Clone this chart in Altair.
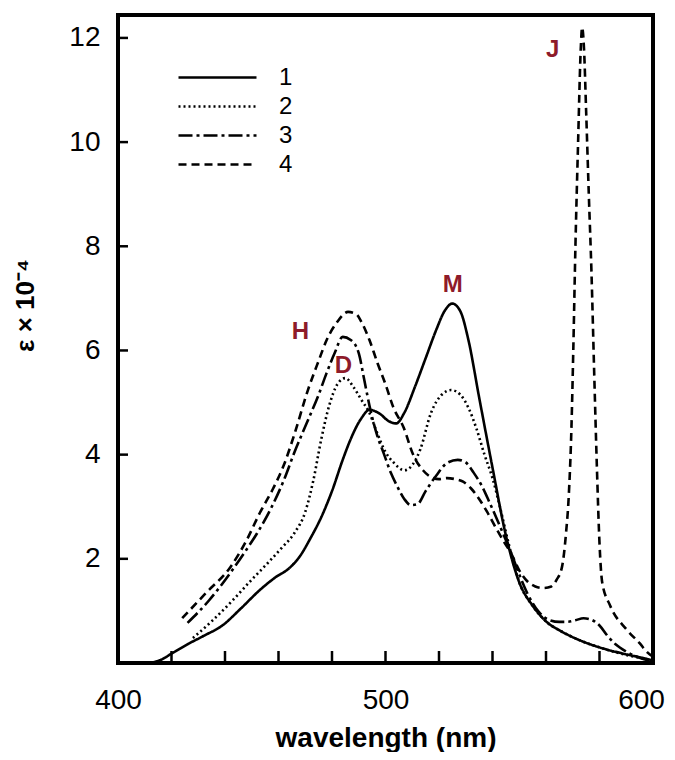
import altair as alt
import pandas as pd

# ---- data ----
series_names = ["1", "2", "3", "4"]

wl1 = [412, 416, 420, 426, 432, 439, 446, 453, 459, 464, 468, 472, 476, 480, 484, 487, 491, 494, 498, 501, 504,
       507, 511, 515, 519, 522, 525, 528, 531, 535, 540, 545, 550, 555, 560, 566, 572, 580, 588, 595, 600]
eps1 = [0.0, 0.06, 0.18, 0.36, 0.52, 0.72, 1.05, 1.40, 1.65, 1.82, 2.05, 2.4, 2.8, 3.3, 3.9, 4.3, 4.7, 4.86, 4.78, 4.65, 4.6,
        4.8, 5.3, 5.85, 6.4, 6.75, 6.9, 6.75, 6.2, 5.1, 3.75, 2.45, 1.55, 1.1, 0.8, 0.6, 0.45, 0.3, 0.19, 0.11, 0.05]

wl2 = [428, 435, 443, 450, 456, 461, 466, 470, 473, 476, 479, 482, 485, 488, 491, 494, 497, 500, 503, 507,
       510, 513, 517, 521, 524.5, 528, 531, 534, 537, 540, 543, 546, 550, 555, 560, 566, 572, 580, 588, 595, 600]
eps2 = [0.48, 0.8, 1.21, 1.6, 1.92, 2.2, 2.5, 2.9, 3.5, 4.3, 4.95, 5.35, 5.47, 5.3, 5.05, 4.8, 4.4, 4.05, 3.85, 3.7,
        3.8, 4.1, 4.8, 5.15, 5.24, 5.15, 4.9, 4.5, 4.0, 3.55, 2.95, 2.3, 1.55, 1.1, 0.8, 0.6, 0.45, 0.3, 0.18, 0.1, 0.05]

wl3 = [426, 434, 442, 447, 452, 457, 462, 466, 471, 475, 478, 481, 484, 487, 490, 492, 494.4, 497, 499.3, 502,
       504.5, 507, 509.5, 512, 515, 519, 523, 527, 530, 533, 536, 539, 543, 547, 550, 553, 557, 561, 565, 568,
       571, 574, 577, 580, 583, 586, 590, 595, 600]
eps3 = [0.77, 1.2, 1.73, 2.1, 2.49, 2.95, 3.51, 4.05, 4.66, 5.15, 5.57, 5.95, 6.26, 6.2, 5.95, 5.45, 4.85, 4.35, 4.03, 3.65,
        3.38, 3.15, 3.03, 3.05, 3.3, 3.6, 3.84, 3.9, 3.85, 3.65, 3.4, 3.07, 2.6, 2.11, 1.7, 1.34, 1.0, 0.83, 0.79, 0.79,
        0.82, 0.86, 0.83, 0.72, 0.52, 0.36, 0.22, 0.1, 0.03]

wl4 = [424, 433, 442, 448, 453, 458, 462, 466, 471, 475, 478, 482, 486, 489, 491, 494, 497, 500, 503, 506.7,
       510.5, 514, 517, 520, 523, 526, 529, 532, 535, 538, 541, 544, 547, 550, 553, 556, 559, 562, 564, 566,
       567.5, 568.5, 569.5, 570.2, 571, 572, 573, 573.5, 574.2, 575, 576, 577, 578, 579, 580, 581, 584, 590, 595, 598, 600]
eps4 = [0.86, 1.35, 1.84, 2.35, 2.88, 3.35, 3.8, 4.4, 5.24, 5.8, 6.2, 6.55, 6.74, 6.7, 6.55, 6.2, 5.76, 5.35, 4.9, 4.53,
        3.98, 3.7, 3.57, 3.53, 3.55, 3.53, 3.48, 3.35, 3.15, 2.9, 2.62, 2.35, 2.1, 1.78, 1.57, 1.47, 1.44, 1.47, 1.6, 1.85,
        2.5, 3.2, 4.5, 6.0, 8.0, 10.0, 11.8, 12.2, 11.8, 10.6, 9.0, 7.5, 5.6, 3.8, 2.3, 1.55, 1.1, 0.65, 0.38, 0.2, 0.12]

x_tick_values = [420, 440, 460, 480, 500, 520, 540, 560, 580]
x_label_values = [400, 500, 600]
y_tick_values = [2, 4, 6, 8, 10, 12]

band_letters = ["H", "D", "M", "J"]
band_wl = [468.2, 484.3, 525.1, 562.5]
band_eps = [6.35, 5.70, 7.26, 11.77]

# ---- build tables ----
rows = []
for name, wl, ev in zip(series_names, [wl1, wl2, wl3, wl4], [eps1, eps2, eps3, eps4]):
    for a, b in zip(wl, ev):
        rows.append({"series": name, "wl": a, "eps": b})
df = pd.DataFrame(rows)
df_xt = pd.DataFrame({"wl": x_tick_values})
df_yt = pd.DataFrame({"eps": y_tick_values})
df_lab = pd.DataFrame({"letter": band_letters, "wl": band_wl, "eps": band_eps})

W, H = 535, 648
FONT = "Liberation Sans"
xscale = alt.Scale(domain=[400, 600], nice=False, zero=False)
yscale = alt.Scale(domain=[0, 12.44], nice=False, zero=True)

x_axis = alt.Axis(values=x_label_values, ticks=False, domain=False, grid=False,
                  labelFontSize=28, labelPadding=23, labelFlush=False, labelColor="black",
                  labelOffset={"condition": {"test": "datum.value === 600", "value": -12}, "value": 0},
                  labelFont=FONT, title="wavelength (nm)", titleFontSize=28, titleFontWeight="bold",
                  titleFont=FONT, titleColor="black", titleX=W / 2, titleY=75,
                  titleBaseline="middle", titleAlign="center")
y_axis = alt.Axis(values=y_tick_values, ticks=False, domain=False, grid=False,
                  labelFontSize=28, labelPadding=18, labelColor="black", labelFont=FONT,
                  title="ε × 10⁻⁴", titleFontSize=26, titleFontWeight="bold", titleFont=FONT,
                  titleColor="black", titleAngle=270, titleX=-93, titleY=290,
                  titleBaseline="middle", titleAlign="center")

dash_range = [[1, 0], [2, 3], [14, 4, 3, 4], [8, 5]]

# custom legend glyph: a horizontal stroke three times wider than the symbol box
legend_glyph = "M-3,0H3"

lines = alt.Chart(df).mark_line(color="black", strokeWidth=2.6, interpolate="monotone", clip=True).encode(
    x=alt.X("wl:Q", scale=xscale, axis=x_axis),
    y=alt.Y("eps:Q", scale=yscale, axis=y_axis),
    strokeDash=alt.StrokeDash("series:N", scale=alt.Scale(domain=series_names, range=dash_range),
                              legend=alt.Legend(title=None, orient="none", legendX=85, legendY=48,
                                                symbolType=legend_glyph, symbolSize=676,
                                                symbolStrokeWidth=2.6, symbolStrokeColor="black",
                                                labelFontSize=24, labelFont=FONT, labelColor="black",
                                                labelOffset=47, rowPadding=2, padding=0)),
    order=alt.Order("wl:Q"),
)

xticks = alt.Chart(df_xt).mark_rule(color="black", strokeWidth=2.5).encode(
    x=alt.X("wl:Q", scale=xscale, axis=x_axis),
    y=alt.value(H), y2=alt.value(H - 12),
)
yticks = alt.Chart(df_yt).mark_rule(color="black", strokeWidth=2.5).encode(
    y=alt.Y("eps:Q", scale=yscale, axis=y_axis),
    x=alt.value(0), x2=alt.value(10),
)
letters = alt.Chart(df_lab).mark_text(font=FONT, fontSize=24, fontWeight="bold", color="#8E1B2A",
                                      align="center", baseline="middle").encode(
    x=alt.X("wl:Q", scale=xscale, axis=x_axis),
    y=alt.Y("eps:Q", scale=yscale, axis=y_axis),
    text="letter:N",
)

chart = alt.layer(lines, xticks, yticks, letters).properties(
    width=W, height=H,
    background="white",
    autosize=alt.AutoSizeParams(type="none"),
    padding={"left": 110, "top": 7, "right": 14, "bottom": 89},
).configure_view(stroke="black", strokeWidth=4)

chart.save("out.html", embed_options={"renderer": "svg", "actions": False})
